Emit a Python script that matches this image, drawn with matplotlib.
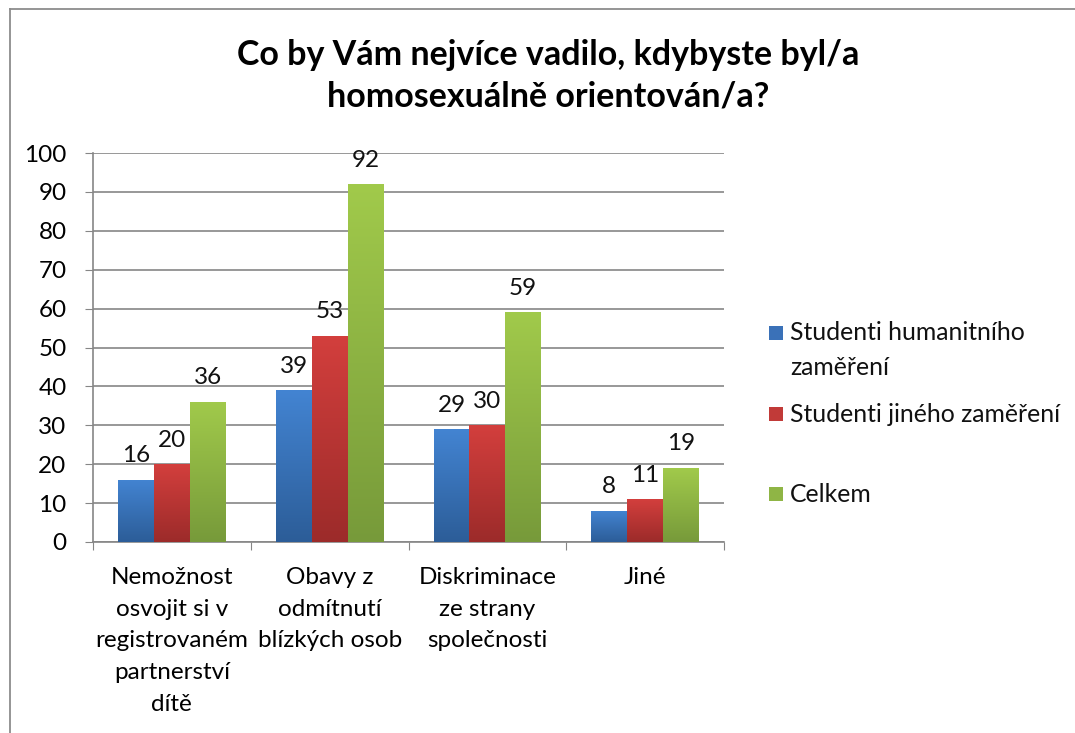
import matplotlib
matplotlib.use("Agg")
import matplotlib.pyplot as plt
import numpy as np
from matplotlib.colors import LinearSegmentedColormap

categories = ["Nemožnost\nosvojit si v\nregistrovaném\npartnerství\ndítě",
              "Obavy z\nodmítnutí\nblízkých osob",
              "Diskriminace\nze strany\nspolečnosti",
              "Jiné"]
series_names = ["Studenti humanitního\nzaměření", "Studenti jiného zaměření", "Celkem"]
humanitni = [16, 39, 29, 8]
jine = [20, 53, 30, 11]
celkem = [36, 92, 59, 19]
yticks = list(range(0, 101, 10))

top_colors = ["#4384d2", "#d33f3d", "#a1ca4b"]
bot_colors = ["#2c5d98", "#9c2b2a", "#779a3a"]
legend_colors = ["#3a71b8", "#c13a38", "#8fb545"]

plt.rcParams['font.family'] = ['Lato', 'DejaVu Sans']

fig = plt.figure(figsize=(10.75, 7.33), dpi=100)
# outer chart border (top and left visible)
bx, by = 9.5 / 1075, 1 - 8.5 / 733
fig.add_artist(plt.Line2D([bx, bx], [0, by], transform=fig.transFigure, color="#8c8c8c", lw=1.3))
fig.add_artist(plt.Line2D([bx, 1], [by, by], transform=fig.transFigure, color="#8c8c8c", lw=1.3))

ax = fig.add_axes([93/1075, 1-542/733, (724-93)/1075, (542-153)/733])
x = np.arange(len(categories))
w = 0.227
data = [humanitni, jine, celkem]
for i, vals in enumerate(data):
    cmap = LinearSegmentedColormap.from_list("g%d" % i, [bot_colors[i], top_colors[i]])
    bars = ax.bar(x + (i - 1) * w, vals, w, facecolor="none", edgecolor="none", zorder=3)
    for b, v in zip(bars, vals):
        x0 = b.get_x()
        grad = np.linspace(0, 1, 256).reshape(-1, 1)
        im = ax.imshow(grad, cmap=cmap, origin="lower", aspect="auto",
                       extent=[x0, x0 + w, 0, v], zorder=3)
        im.set_clip_path(b)
        ax.text(x0 + w / 2, v + 3.5, str(v), ha="center", va="bottom",
                fontsize=17.5, color="#111111", zorder=4)

ax.set_xlim(-0.5, len(categories) - 0.5)
ax.set_ylim(0, 100)
ax.set_yticks(yticks)
ax.set_yticklabels([str(t) for t in yticks], fontsize=17.5)
ax.set_xticks(np.arange(-0.5, len(categories), 1.0))
ax.set_xticklabels([])
ax.set_xticks(x, minor=True)
ax.set_xticklabels(categories, minor=True, fontsize=17.5, linespacing=1.63)
ax.tick_params(axis="x", which="minor", length=0, pad=18)
ax.tick_params(axis="x", which="major", length=6, color="#868686", direction="out")
ax.tick_params(axis="y", length=6, color="#868686", direction="out", pad=13)
ax.yaxis.grid(True, color="#868686", lw=1.2, zorder=0)
ax.set_axisbelow(True)
for s in ["top", "right"]:
    ax.spines[s].set_visible(False)
for s in ["left", "bottom"]:
    ax.spines[s].set_color("#868686")
    ax.spines[s].set_linewidth(1.2)

fig.text(548/1075, 1 - 76/733, "Co by Vám nejvíce vadilo, kdybyste byl/a\nhomosexuálně orientován/a?",
         ha="center", va="center", fontsize=24.5, fontweight="bold", linespacing=1.38)

# legend
leg_y = [333, 414, 494]
for i, name in enumerate(series_names):
    yy = 1 - leg_y[i] / 733
    fig.patches.append(plt.Rectangle((769/1075, yy - 7/733), 14/1075, 14/733,
                                     transform=fig.transFigure, facecolor=legend_colors[i],
                                     edgecolor="none"))
    nlines = name.count("\n") + 1
    cy = yy - (nlines - 1) * 34 / 2 / 733
    fig.text(790/1075, cy, name, ha="left", va="center", fontsize=17.8,
             linespacing=1.62, color="#111111")

fig.savefig("out.png", dpi=100)
